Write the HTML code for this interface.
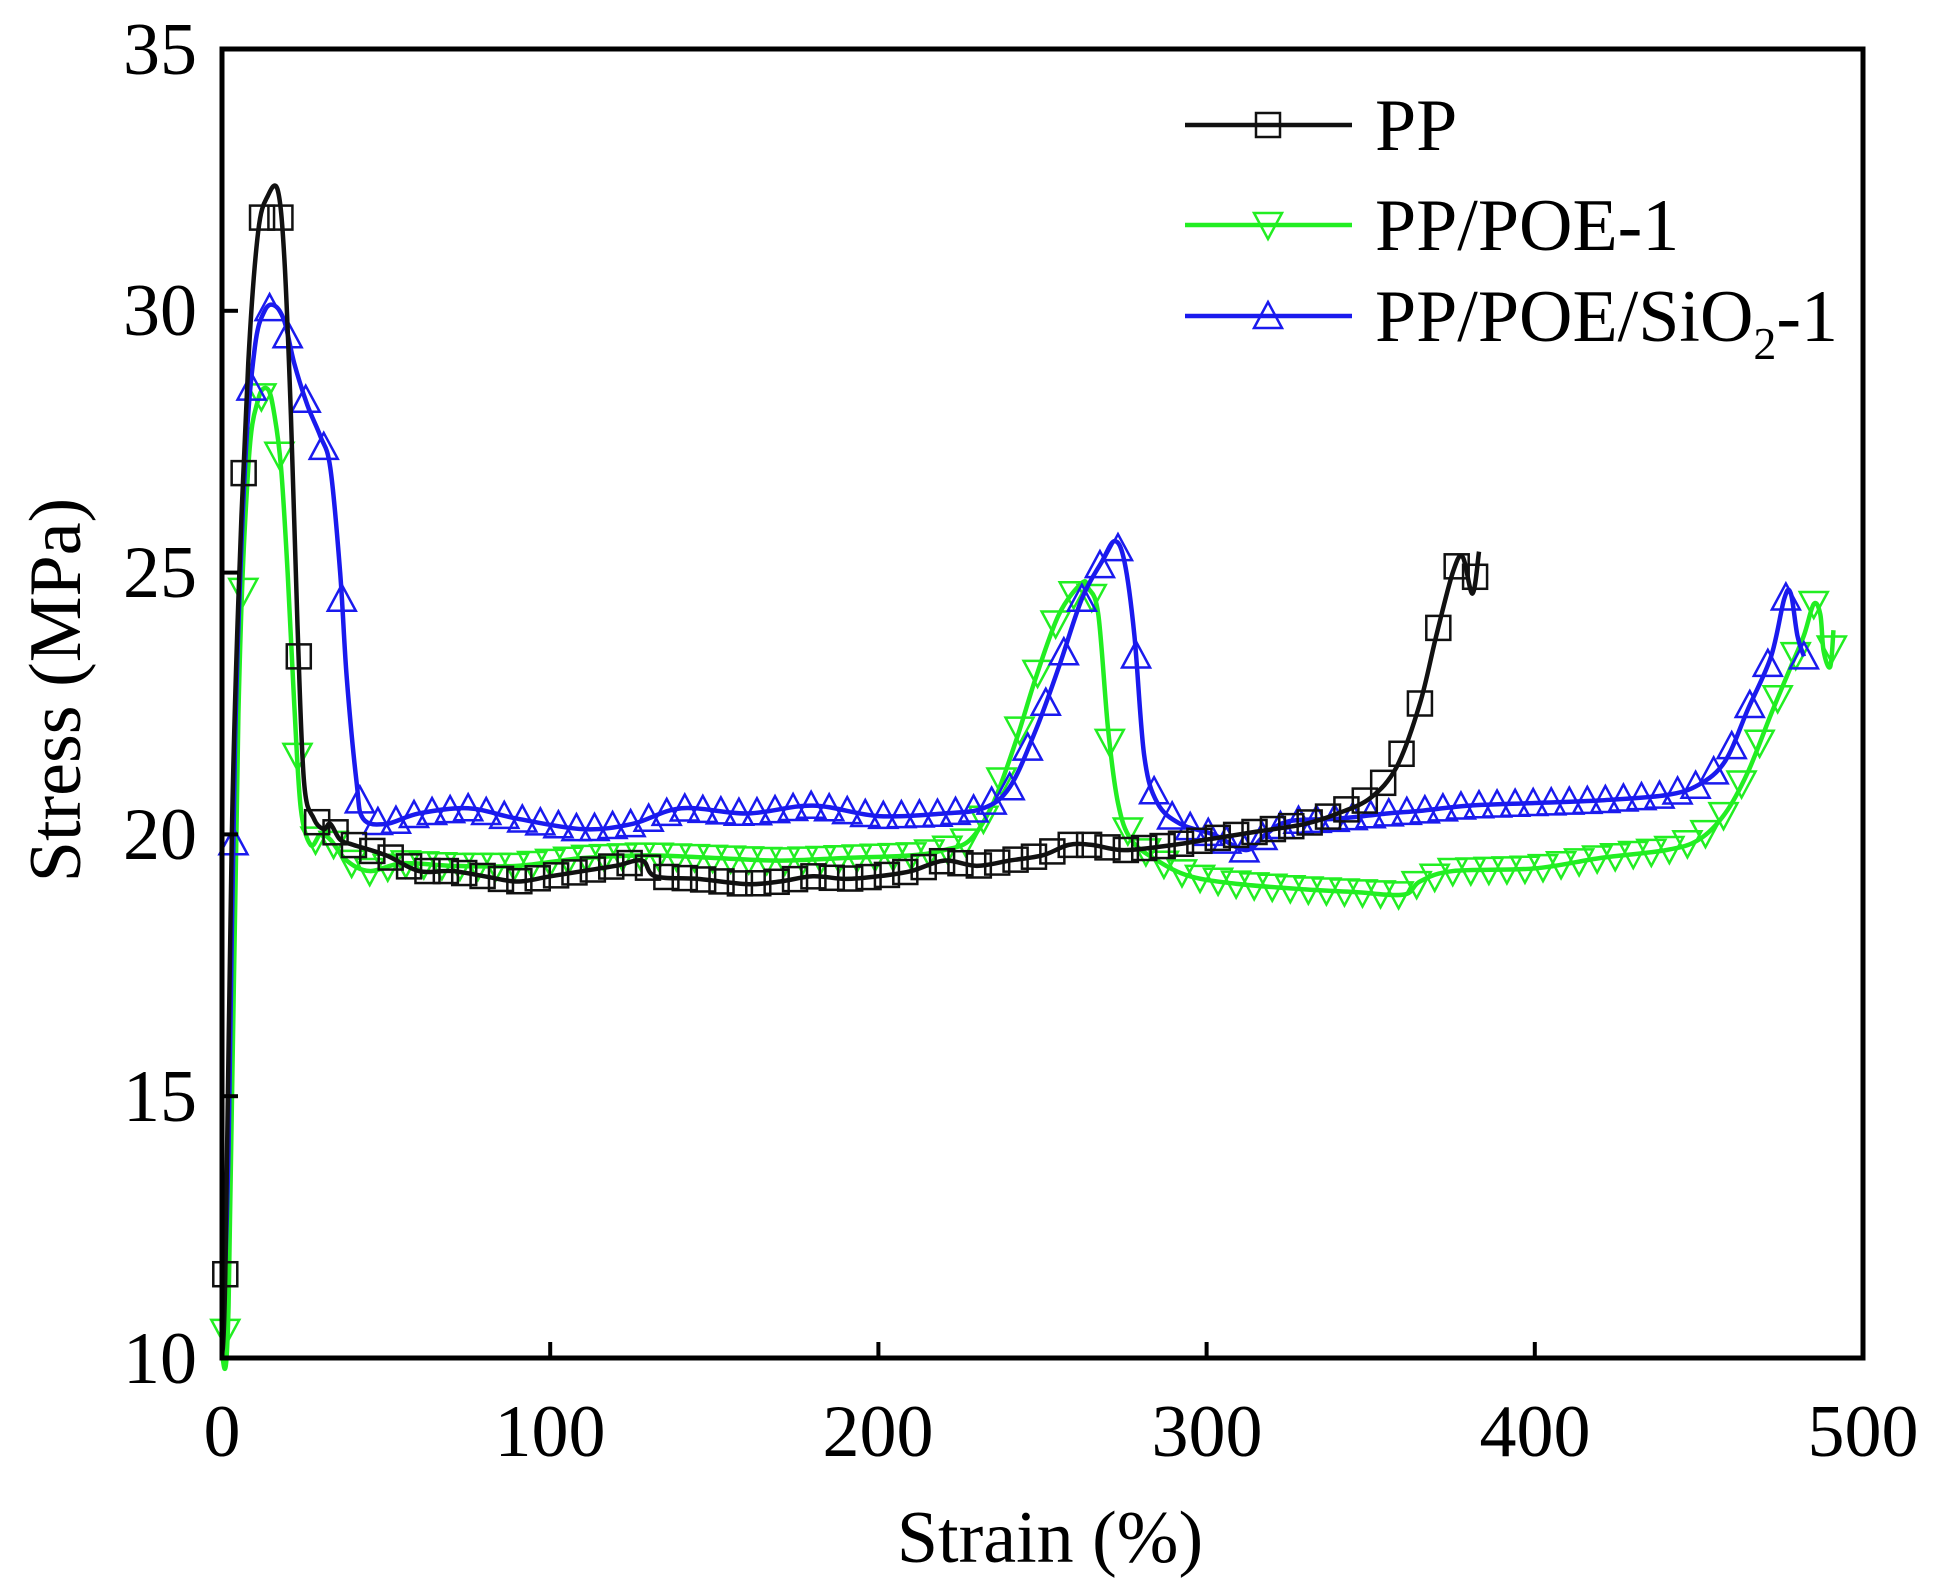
<!DOCTYPE html>
<html><head><meta charset="utf-8"><style>
html,body{margin:0;padding:0;background:#fff}
svg{display:block}
text{font-family:"Liberation Serif","Times New Roman",serif;fill:#000}
</style></head><body>
<svg id="s" width="1942" height="1585" viewBox="0 0 1942 1585" xmlns="http://www.w3.org/2000/svg">
<rect width="1942" height="1585" fill="#fff"/>
<g id="plot"></g>
<rect x="222" y="49" width="1641" height="1309" fill="none" stroke="#000" stroke-width="5"/>
<g id="ticks" stroke="#000" stroke-width="4"></g>
<g font-size="74" text-anchor="end">
<text x="197" y="1383">10</text><text x="197" y="1121">15</text><text x="197" y="859">20</text>
<text x="197" y="597">25</text><text x="197" y="335">30</text><text x="197" y="74">35</text>
</g>
<g font-size="74" text-anchor="middle">
<text x="222" y="1456">0</text><text x="550" y="1456">100</text><text x="878" y="1456">200</text>
<text x="1207" y="1456">300</text><text x="1535" y="1456">400</text><text x="1863" y="1456">500</text>
<text x="1050" y="1562">Strain (%)</text>
<text transform="translate(80,690) rotate(-90)">Stress (MPa)</text>
</g>
<g id="legend"></g>
<g font-size="74">
<text x="1375" y="150">PP</text>
<text x="1375" y="250">PP/POE-1</text>
<text x="1375" y="341">PP/POE/SiO<tspan font-size="46" dy="18">2</tspan><tspan dy="-18">-1</tspan></text>
</g>
</svg>
<script>
const X=v=>222+v*3.282, Y=v=>1358-(v-10)*52.36;
const NS="http://www.w3.org/2000/svg";
const plot=document.getElementById('plot');
function el(t,a,p){const e=document.createElementNS(NS,t);for(const k in a)e.setAttribute(k,a[k]);(p||plot).appendChild(e);return e;}
const pp=[[0,10],[1,11.6],[3,20],[5,24.5],[8,29],[11,31.5],[14,32.2],[17,32.3],[19,31],[21,28],[23,24],[25,21],[28,20.3],[31,20.1],[33,20.2],[36,19.9],[40,19.8],[50,19.6],[60,19.3],[70,19.3],[80,19.2],[90,19.1],[100,19.2],[110,19.3],[120,19.4],[128,19.5],[132,19.2],[145,19.15],[160,19.05],[170,19.1],[180,19.2],[190,19.15],[200,19.2],[210,19.3],[220,19.5],[230,19.4],[240,19.5],[250,19.6],[258,19.8],[265,19.8],[275,19.7],[290,19.8],[300,19.9],[315,20.05],[330,20.2],[340,20.4],[350,20.7],[358,21.3],[365,22.5],[370,23.8],[375,25],[378,25.3],[381,24.6],[383,25.4]];
const g=[[0,10],[2,11],[5,22.3],[8,27],[11,28.3],[14,28.5],[16,28],[18,27],[20,25],[22,22.5],[24,20.5],[27,19.8],[30,20],[33,19.9],[38,19.5],[45,19.3],[55,19.45],[70,19.4],[90,19.4],[110,19.55],[130,19.6],[150,19.55],[170,19.5],[190,19.55],[210,19.6],[220,19.7],[228,19.9],[235,20.6],[242,21.8],[248,23],[255,24.2],[262,24.8],[264,24.7],[267,24.2],[270,22],[273,20.6],[277,19.9],[285,19.5],[295,19.2],[310,19.05],[330,18.95],[345,18.9],[360,18.85],[365,19.1],[375,19.3],[400,19.35],[420,19.55],[440,19.7],[450,19.9],[458,20.4],[465,21.2],[472,22.3],[478,23.2],[482,23.8],[485,24.4],[487,24.2],[488,23.5],[490,23.2],[491,23.9]];
const b=[[0,10],[2,14],[4,21.8],[7,27],[10,29.3],[13,30],[16,30.1],[19,29.8],[22,29],[26,28.2],[30,27.6],[33,27],[36,25],[38,23],[41,21],[43,20.3],[50,20.2],[60,20.4],[75,20.5],[90,20.3],[110,20.1],[125,20.2],[140,20.5],[160,20.4],[180,20.55],[200,20.35],[220,20.4],[232,20.5],[240,20.9],[248,22],[255,23.2],[262,24.5],[268,25.2],[272,25.6],[275,25.2],[278,23.8],[281,21.5],[285,20.6],[292,20.2],[302,20],[312,19.7],[318,20],[325,20.25],[340,20.3],[355,20.4],[365,20.45],[380,20.55],[400,20.6],[420,20.65],[440,20.75],[450,20.95],[458,21.4],[465,22.4],[472,23.4],[476,24.5],[478,24.6],[480,23.8],[482,23.4]];
function mark(type,x,y,col,parent){
 const s=12;
 if(type=='sq') el('rect',{x:x-s,y:y-s,width:2*s,height:2*s,fill:'none',stroke:col,'stroke-width':2.5},parent);
 else if(type=='dn') el('polygon',{points:`${x-s-2},${y-s} ${x+s+2},${y-s} ${x},${y+s+2}`,fill:'none',stroke:col,'stroke-width':2.5},parent);
 else el('polygon',{points:`${x-s-2},${y+s} ${x+s+2},${y+s} ${x},${y-s-2}`,fill:'none',stroke:col,'stroke-width':2.5},parent);
}
function interp(d,x){for(let i=1;i<d.length;i++){if(d[i][0]>=x){const a=d[i-1],c=d[i];const f=(x-a[0])/(c[0]-a[0]||1);return a[1]+(c[1]-a[1])*f;}}return d[d.length-1][1];}
function smooth(p){
 let s=`M${p[0][0]},${p[0][1]}`;
 for(let i=0;i<p.length-1;i++){
  const p0=p[Math.max(0,i-1)],p1=p[i],p2=p[i+1],p3=p[Math.min(p.length-1,i+2)];
  const c1=[p1[0]+(p2[0]-p0[0])/6,p1[1]+(p2[1]-p0[1])/6],c2=[p2[0]-(p3[0]-p1[0])/6,p2[1]-(p3[1]-p1[1])/6];
  s+=` C${c1[0]},${c1[1]} ${c2[0]},${c2[1]} ${p2[0]},${p2[1]}`;
 }
 return s;
}
function series(d,col,type,step,x0){
 const p=d.map(q=>[X(q[0]),Y(q[1])]);
 el('path',{d:smooth(p),fill:'none',stroke:col,'stroke-width':4.5,'stroke-linejoin':'round'});
 const xmax=d[d.length-1][0];
 for(let x=x0;x<=xmax;x+=step) mark(type,X(x),Y(interp(d,x)),col);
}
series(g,'#22ee22','dn',5.5,1);
series(b,'#1a1aee','up',5.5,3.5);
series(pp,'#111','sq',5.6,1);
const tk=document.getElementById('ticks');
for(let v=100;v<=400;v+=100){el('line',{x1:X(v),y1:1358,x2:X(v),y2:1342},tk);}
for(let v=15;v<=30;v+=5){el('line',{x1:222,y1:Y(v),x2:238,y2:Y(v)},tk);}
const lg=document.getElementById('legend');
[[125,'#111','sq'],[225,'#22ee22','dn'],[316,'#1a1aee','up']].forEach(r=>{
 el('line',{x1:1185,y1:r[0],x2:1352,y2:r[0],stroke:r[1],'stroke-width':4.5},lg);
 mark(r[2],1268,r[0],r[1],lg);
});
</script>
</body></html>
